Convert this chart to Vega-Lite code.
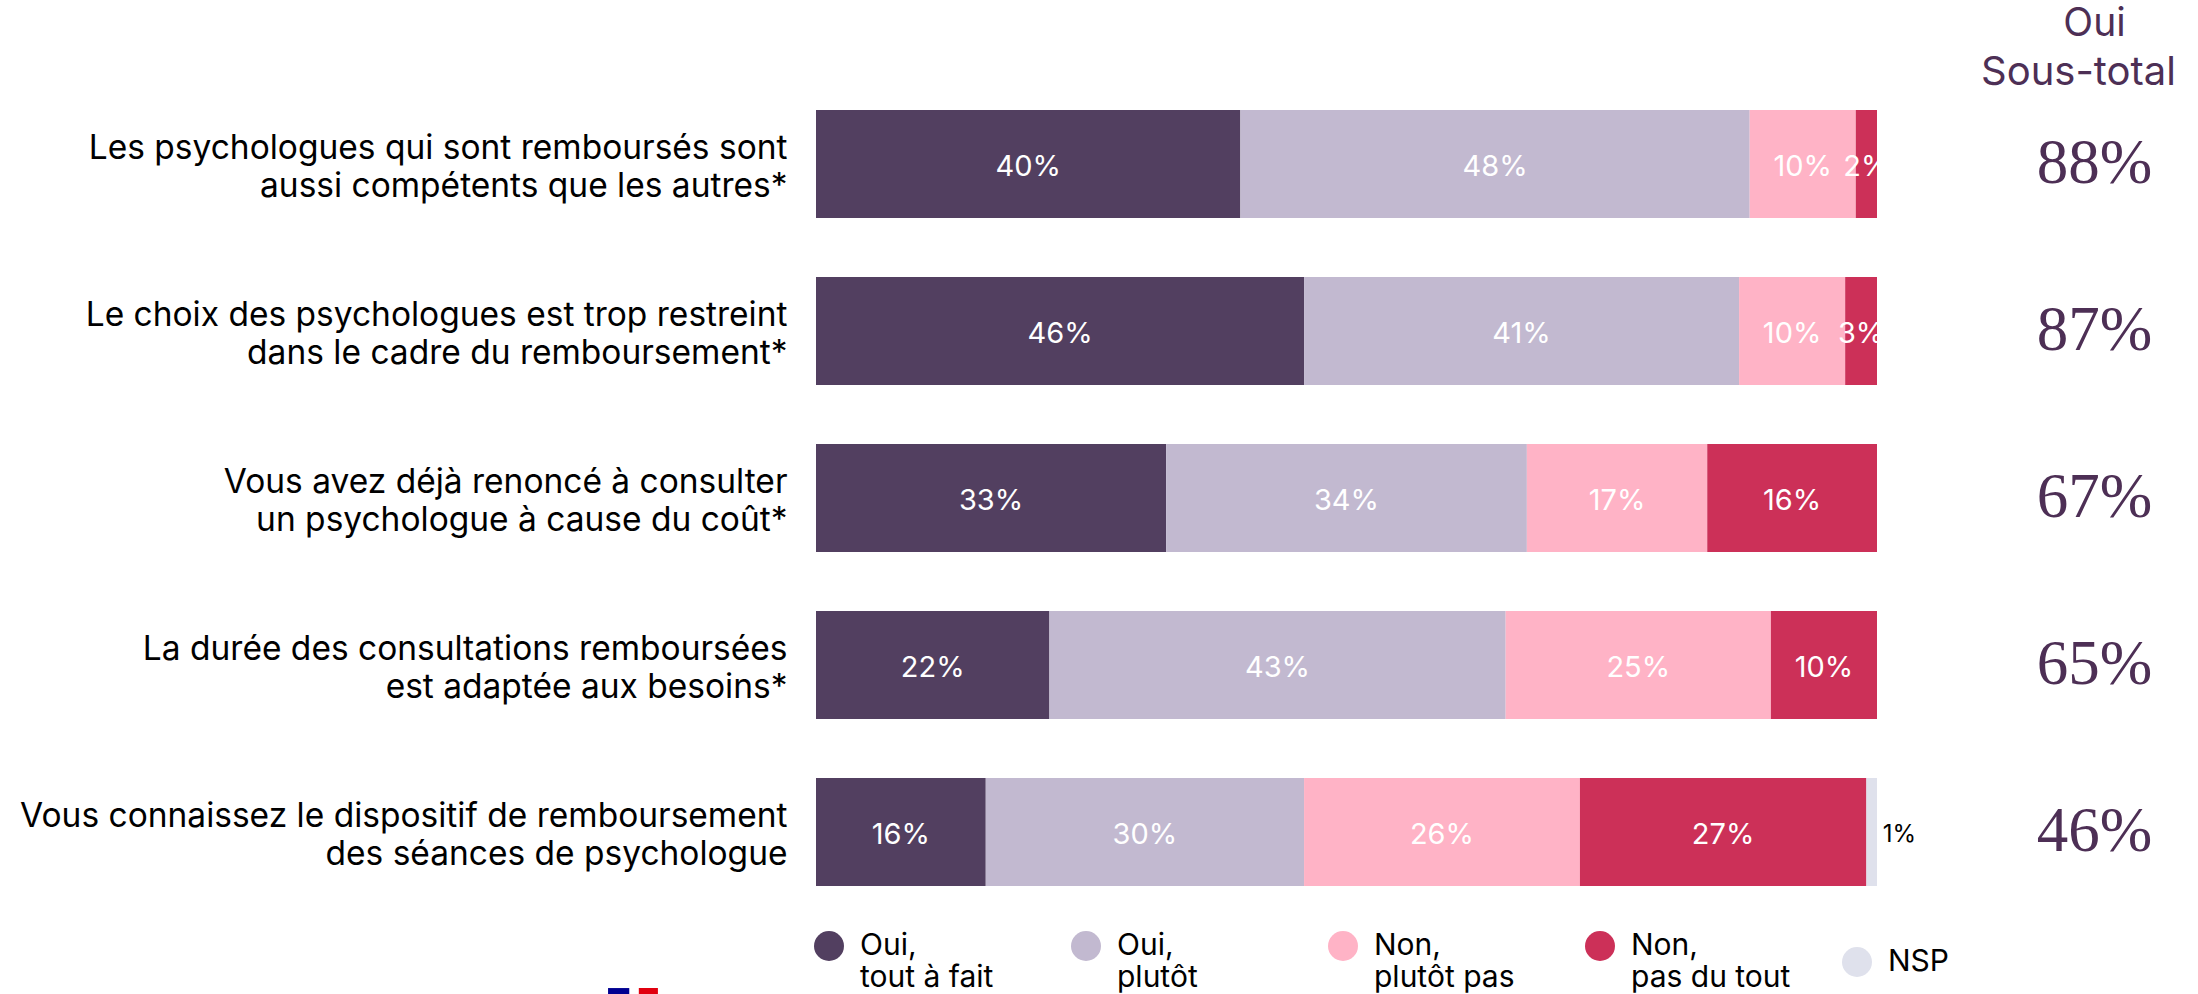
{"$schema":"https://vega.github.io/schema/vega-lite/v6.json","width":1061,"height":776,"autosize":{"type":"none"},"padding":{"left":816,"top":110,"right":321,"bottom":108},"background":"white","config":{"view":{"stroke":null},"font":"Inter"},
"datasets":{"bars":[
{"q":"Les psychologues qui sont remboursés sont|aussi compétents que les autres*","r":"Oui, tout à fait","o":1,"v":40},{"q":"Les psychologues qui sont remboursés sont|aussi compétents que les autres*","r":"Oui, plutôt","o":2,"v":48},{"q":"Les psychologues qui sont remboursés sont|aussi compétents que les autres*","r":"Non, plutôt pas","o":3,"v":10},{"q":"Les psychologues qui sont remboursés sont|aussi compétents que les autres*","r":"Non, pas du tout","o":4,"v":2},
{"q":"Le choix des psychologues est trop restreint|dans le cadre du remboursement*","r":"Oui, tout à fait","o":1,"v":46},{"q":"Le choix des psychologues est trop restreint|dans le cadre du remboursement*","r":"Oui, plutôt","o":2,"v":41},{"q":"Le choix des psychologues est trop restreint|dans le cadre du remboursement*","r":"Non, plutôt pas","o":3,"v":10},{"q":"Le choix des psychologues est trop restreint|dans le cadre du remboursement*","r":"Non, pas du tout","o":4,"v":3},
{"q":"Vous avez déjà renoncé à consulter|un psychologue à cause du coût*","r":"Oui, tout à fait","o":1,"v":33},{"q":"Vous avez déjà renoncé à consulter|un psychologue à cause du coût*","r":"Oui, plutôt","o":2,"v":34},{"q":"Vous avez déjà renoncé à consulter|un psychologue à cause du coût*","r":"Non, plutôt pas","o":3,"v":17},{"q":"Vous avez déjà renoncé à consulter|un psychologue à cause du coût*","r":"Non, pas du tout","o":4,"v":16},
{"q":"La durée des consultations remboursées|est adaptée aux besoins*","r":"Oui, tout à fait","o":1,"v":22},{"q":"La durée des consultations remboursées|est adaptée aux besoins*","r":"Oui, plutôt","o":2,"v":43},{"q":"La durée des consultations remboursées|est adaptée aux besoins*","r":"Non, plutôt pas","o":3,"v":25},{"q":"La durée des consultations remboursées|est adaptée aux besoins*","r":"Non, pas du tout","o":4,"v":10},
{"q":"Vous connaissez le dispositif de remboursement|des séances de psychologue","r":"Oui, tout à fait","o":1,"v":16},{"q":"Vous connaissez le dispositif de remboursement|des séances de psychologue","r":"Oui, plutôt","o":2,"v":30},{"q":"Vous connaissez le dispositif de remboursement|des séances de psychologue","r":"Non, plutôt pas","o":3,"v":26},{"q":"Vous connaissez le dispositif de remboursement|des séances de psychologue","r":"Non, pas du tout","o":4,"v":27},{"q":"Vous connaissez le dispositif de remboursement|des séances de psychologue","r":"NSP","o":5,"v":1}
],"totals":[
{"q":"Les psychologues qui sont remboursés sont|aussi compétents que les autres*","t":"88%","col":120.5},
{"q":"Le choix des psychologues est trop restreint|dans le cadre du remboursement*","t":"87%","col":120.5},
{"q":"Vous avez déjà renoncé à consulter|un psychologue à cause du coût*","t":"67%","col":120.5},
{"q":"La durée des consultations remboursées|est adaptée aux besoins*","t":"65%","col":120.5},
{"q":"Vous connaissez le dispositif de remboursement|des séances de psychologue","t":"46%","col":120.5}
],"logo":[
{"q":"Vous connaissez le dispositif de remboursement|des séances de psychologue","a":-19.6,"b":-17.6,"c":"#000091"},
{"q":"Vous connaissez le dispositif de remboursement|des séances de psychologue","a":-16.7,"b":-14.9,"c":"#E1000F"}
]},
"encoding":{"y":{"field":"q","type":"nominal","sort":null,"title":null,"scale":{"paddingInner":0.354,"paddingOuter":0,"domain":["Les psychologues qui sont remboursés sont|aussi compétents que les autres*","Le choix des psychologues est trop restreint|dans le cadre du remboursement*","Vous avez déjà renoncé à consulter|un psychologue à cause du coût*","La durée des consultations remboursées|est adaptée aux besoins*","Vous connaissez le dispositif de remboursement|des séances de psychologue"]},"axis":{"domain":false,"ticks":false,"labelPadding":29,"labelLimit":900,"labelFontSize":33.5,"labelColor":"#000000","labelFont":"Inter","labelLineHeight":38,"labelOffset":-15,"labelExpr":"split(datum.value,'|')"}}},
"layer":[
{"data":{"name":"bars"},"transform":[{"stack":"v","groupby":["q"],"sort":[{"field":"o"}],"as":["x0","x1"]},{"calculate":"(datum.x0+datum.x1)/2","as":"mid"},{"calculate":"datum.v+'%'","as":"lab"}],
"layer":[
{"mark":{"type":"bar"},"encoding":{"x":{"field":"x0","type":"quantitative","scale":{"domain":[0,100],"nice":false,"zero":false},"axis":null},"x2":{"field":"x1"},"color":{"field":"r","type":"nominal","scale":{"domain":["Oui, tout à fait","Oui, plutôt","Non, plutôt pas","Non, pas du tout","NSP"],"range":["#523F60","#C2B9D0","#FFB3C6","#CC3058","#DFE1EC"]},"legend":{"orient":"none","legendX":-2,"legendY":821,"direction":"horizontal","columns":5,"title":null,"symbolType":"circle","symbolSize":900,"symbolStrokeWidth":0,"labelFont":"Inter","labelFontSize":30,"labelColor":"#000000","labelOffset":16,"gridAlign":"all","columnPadding":51,"labelLimit":300,"labelExpr":"split(replace(datum.label,', ',',|'),'|')"}}}},
{"transform":[{"filter":"datum.r!='NSP'"}],"mark":{"type":"text","color":"#ffffff","fontSize":29,"font":"Inter","baseline":"middle","dy":3},"encoding":{"x":{"field":"mid","type":"quantitative"},"text":{"field":"lab"}}},
{"transform":[{"filter":"datum.r=='NSP'"}],"mark":{"type":"text","color":"#000000","fontSize":24,"font":"Inter","baseline":"middle","align":"left","dx":11,"dy":3},"encoding":{"x":{"field":"mid","type":"quantitative"},"text":{"field":"lab"}}}
]},
{"data":{"name":"totals"},"layer":[
{"mark":{"type":"text","font":"Liberation Serif","fontSize":63,"color":"#4D2F55","baseline":"middle"},"encoding":{"x":{"field":"col","type":"quantitative"},"text":{"field":"t"}}},
{"transform":[{"filter":"datum.t=='88%'"}],"mark":{"type":"text","font":"Inter","fontSize":39,"color":"#4D2F55","baseline":"alphabetic","dy":-128},"encoding":{"x":{"field":"col","type":"quantitative"},"text":{"value":"Oui"}}},
{"transform":[{"filter":"datum.t=='88%'"}],"mark":{"type":"text","font":"Inter","fontSize":40,"color":"#4D2F55","baseline":"alphabetic","dy":-79,"dx":-16},"encoding":{"x":{"field":"col","type":"quantitative"},"text":{"value":"Sous-total"}}}
]},
{"data":{"name":"logo"},"mark":{"type":"bar","height":12,"yOffset":162},"encoding":{"x":{"field":"a","type":"quantitative"},"x2":{"field":"b"},"fill":{"field":"c","type":"nominal","scale":null}}}
]}
